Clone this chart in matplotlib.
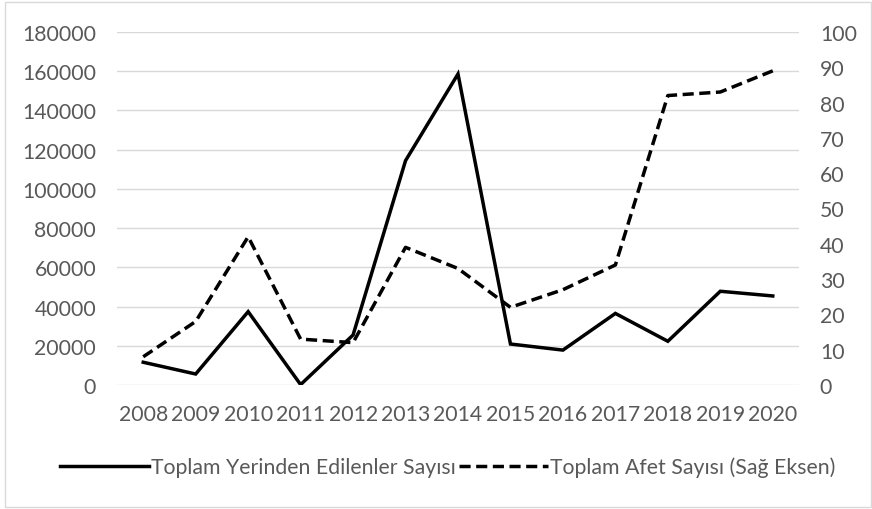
import matplotlib.pyplot as plt
from matplotlib.lines import Line2D
from matplotlib.patches import Rectangle

# data
years = ['2008', '2009', '2010', '2011', '2012', '2013', '2014',
         '2015', '2016', '2017', '2018', '2019', '2020']
displaced = [11600, 5600, 37400, 200, 25500, 114400, 158600,
             20900, 17800, 36500, 22300, 47800, 45400]
disasters = [8, 18, 42, 13, 12, 39, 33, 22, 27, 34, 82, 83, 89]

left_ticks = list(range(0, 180001, 20000))
right_ticks = list(range(0, 101, 10))

plt.rcParams['font.family'] = ['Lato', 'DejaVu Sans']
tick_color = '#595959'
grid_color = '#d9d9d9'
fs = 15.3
lw = 2.5
dash = (3.2, 1.6)

fig = plt.figure(figsize=(8.72, 5.10), dpi=100)
ax = fig.add_axes([117 / 872, 1 - 386 / 510, (799 - 117) / 872, (386 - 33) / 510])
ax2 = ax.twinx()

x = list(range(len(years)))
ax.plot(x, displaced, color='black', lw=lw, solid_joinstyle='miter', zorder=3)
ax2.plot(x, disasters, color='black', lw=lw, dashes=dash, zorder=3)

ax.set_xlim(-0.5, len(years) - 0.5)
ax.set_ylim(0, 180000)
ax2.set_ylim(0, 100)
ax.set_xticks(x)
ax.set_xticklabels(years)
ax.set_yticks(left_ticks)
ax.set_yticklabels([str(v) for v in left_ticks])
ax2.set_yticks(right_ticks)
ax2.set_yticklabels([str(v) for v in right_ticks])

for a in (ax, ax2):
    for s in a.spines.values():
        s.set_visible(False)
    a.tick_params(length=0, labelsize=fs, labelcolor=tick_color)
ax.tick_params(axis='y', pad=15)
ax2.tick_params(axis='y', pad=15)
ax.tick_params(axis='x', pad=14)
ax.grid(axis='y', color=grid_color, lw=1.0)
ax.set_axisbelow(True)

handles = [Line2D([], [], color='black', lw=lw),
           Line2D([], [], color='black', lw=lw, dashes=dash)]
labels = ['Toplam Yerinden Edilenler Sayısı', 'Toplam Afet Sayısı (Sağ Eksen)']
leg = fig.legend(handles, labels, loc='center', bbox_to_anchor=(0.513, 1 - 468 / 510),
                 ncol=2, frameon=False, fontsize=fs, handlelength=4.2,
                 handletextpad=0.08, columnspacing=0.15)
for t in leg.get_texts():
    t.set_color(tick_color)

fig.patches.append(Rectangle((5 / 872, 2 / 510), 866 / 872, 505 / 510, transform=fig.transFigure,
                             fill=False, edgecolor=grid_color, lw=1.0))

fig.savefig('out.png', dpi=100)
